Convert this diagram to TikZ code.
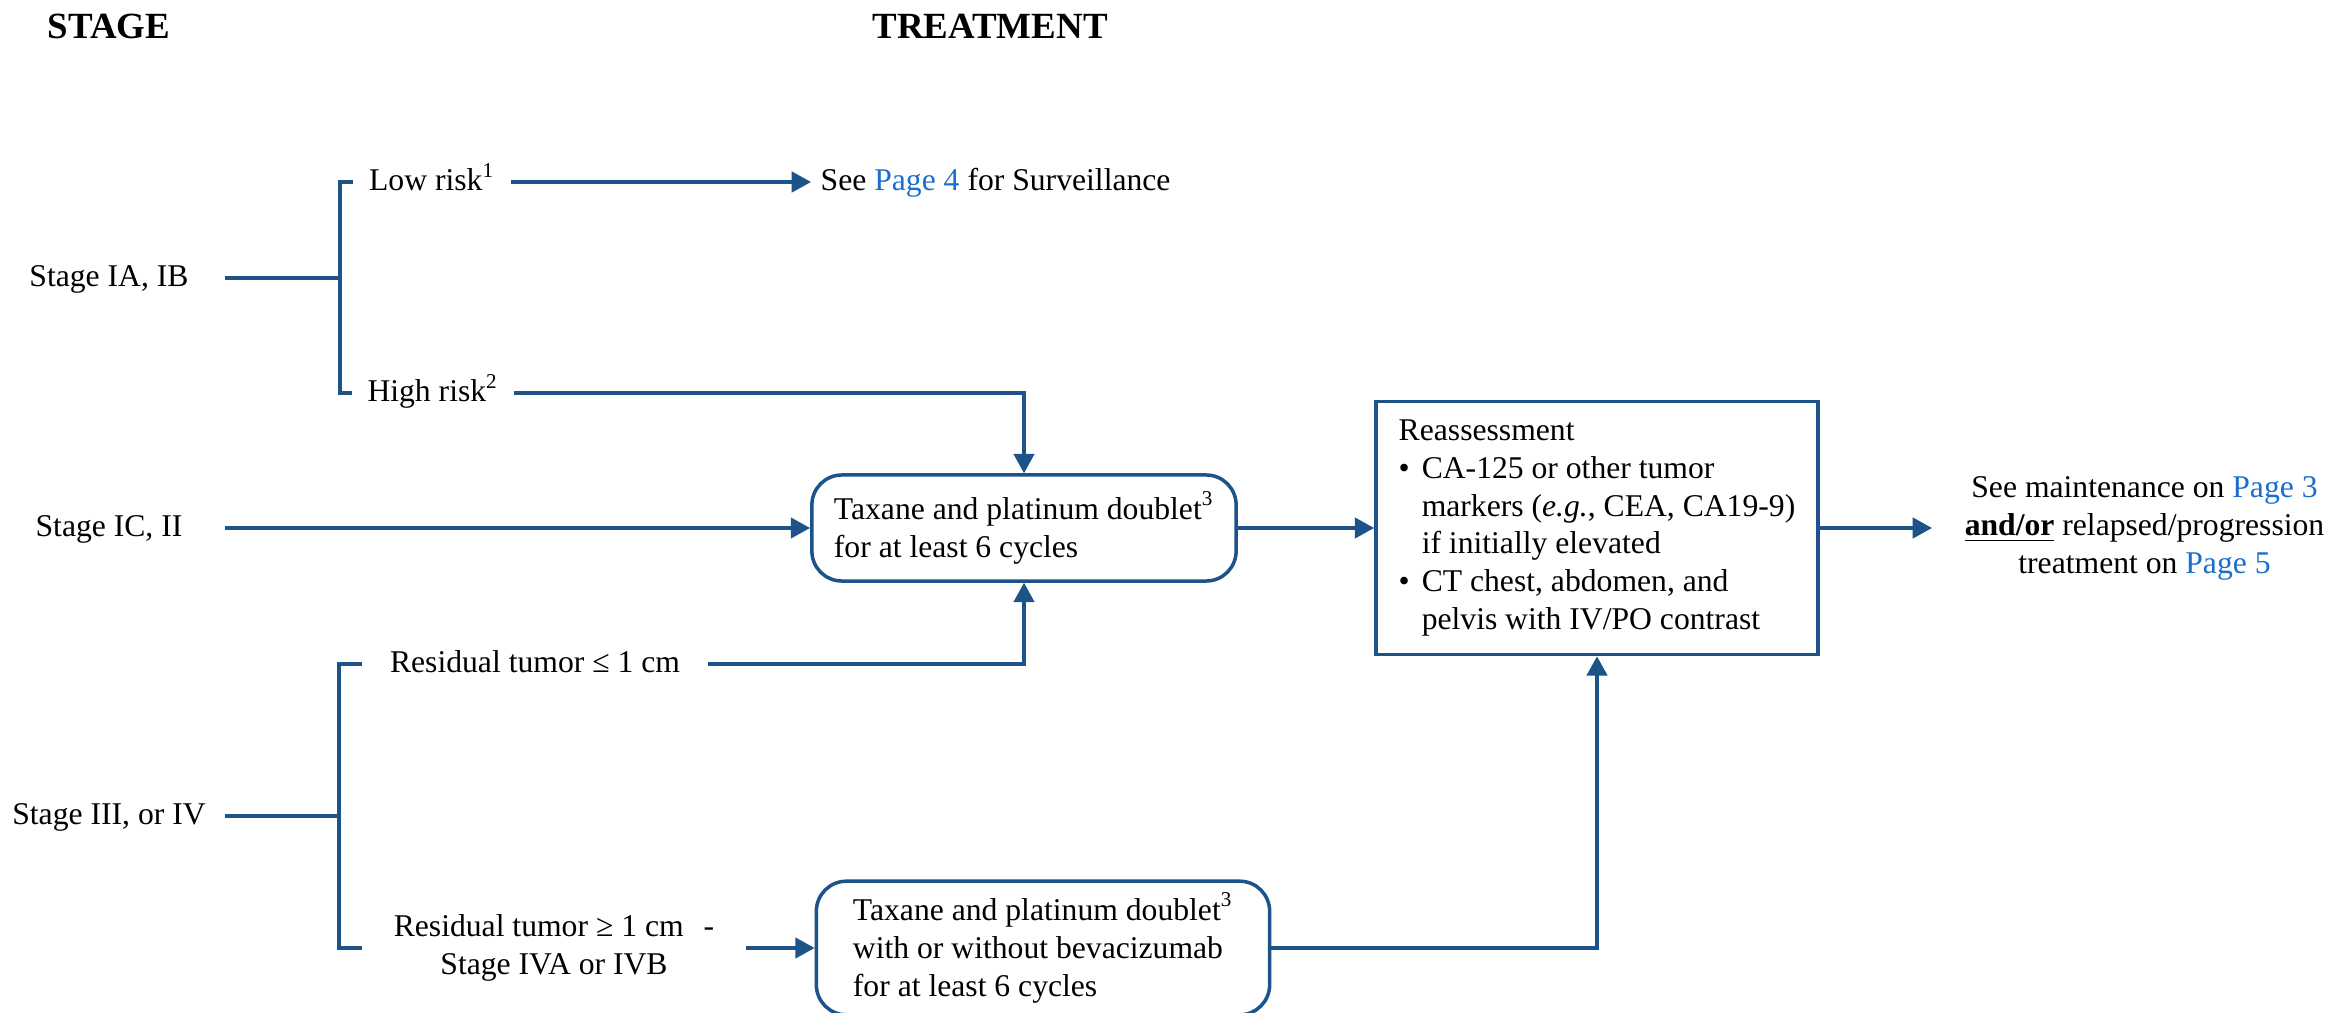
\documentclass[tikz,border=0pt]{standalone}
\usepackage{fontspec}
\setmainfont{Liberation Serif}
\usetikzlibrary{arrows.meta}
\definecolor{flowblue}{HTML}{1C5389}
\definecolor{pagelink}{HTML}{1A6FCC}
\newcommand{\pagelink}[1]{\textcolor{pagelink}{#1}}
\newcommand{\rbul}{\makebox[0.23cm][l]{\textbullet}}
\newcommand{\rind}{\hspace*{0.23cm}}

\begin{document}
\begin{tikzpicture}[x=0.01cm, y=-0.01cm]
    \tikzstyle{every node} = [font=\fontsize{9pt}{10.8pt}\selectfont]
    \tikzstyle{column header} = [font=\fontsize{10.5pt}{12pt}\selectfont\bfseries, inner sep=0pt]
    \tikzstyle{stage label} = [inner sep=0pt, minimum width=2.3cm, text height=7pt, text depth=2pt]
    \tikzstyle{branch text} = [inner ysep=0pt, inner xsep=0.15cm]
    \tikzstyle{branch label} = [branch text, text height=7pt, text depth=2pt]
    \tikzstyle{treatment box} = [draw=flowblue, line width=1pt, rounded corners=0.3cm, align=left, inner xsep=0.15cm, minimum width=4.24cm]
    \tikzstyle{reassess box} = [treatment box, rounded corners=0pt]
    \tikzstyle{flow line} = [draw=flowblue, line width=0.95pt]
    \tikzstyle{flow arrow} = [flow line, ->, >={Triangle[length=5.5pt,width=5.8pt]}]
    \useasboundingbox (0,0) rectangle (2331,1013);
\node[column header] (stagehd) at (109,26) {STAGE};
\node[column header] (treathd) at (990,26) {TREATMENT};
\node[stage label] (ia) at (109,278) {Stage IA, IB};
\node[stage label] (ic) at (109,528) {Stage IC, II};
\node[stage label] (iii) at (109,816) {Stage III, or IV};
\node[branch label] (low) at (432,182) {Low risk\textsuperscript{1}};
\node[branch label] (high) at (433,393) {High risk\textsuperscript{2}};
\node[branch label, anchor=west, inner xsep=0.09cm] (surv) at (811,182) {See \pagelink{Page 4} for Surveillance};
\node[branch label, inner xsep=0.27cm] (resid1) at (535,664) {Residual tumor ≤ 1 cm};
\node[branch text, align=center, inner xsep=0.31cm] (resid2) at (554,948) {Residual tumor ≥ 1 cm\hspace{0.2cm}-\\Stage IVA or IVB};
\node[treatment box, minimum height=1.06cm] (chemo) at (1024,528) {Taxane and platinum doublet\textsuperscript{3}\\for at least 6 cycles};
\node[treatment box, minimum width=4.53cm, minimum height=1.25cm] (bevachemo) at (1043,948) {Taxane and platinum doublet\textsuperscript{3}\\with or without bevacizumab\\for at least 6 cycles};
\node[reassess box, minimum width=4.42cm, minimum height=2.53cm] (reassess) at (1597,528) {Reassessment\\\rbul CA-125 or other tumor\\\rind markers (\textit{e.g.}, CEA, CA19-9)\\\rind if initially elevated\\\rbul CT chest, abdomen, and\\\rind pelvis with IV/PO contrast};
\node[branch text, anchor=west, align=center, inner xsep=0.32cm] (outcome) at (1932,528) {See maintenance on \pagelink{Page 3}\\\underline{\textbf{and/or}} relapsed/progression\\treatment on \pagelink{Page 5}};
\coordinate (forkA) at (340,278);
\coordinate (forkB) at (339,816);
\draw[flow line] (ia.east) -- (forkA);
\draw[flow line] (low.west) -| (forkA) |- (high.west);
\draw[flow line] (iii.east) -- (forkB);
\draw[flow line] (resid1.west) -| (forkB) |- (resid2.west);
\draw[flow arrow] (low.east) -- (surv.west);
\draw[flow arrow] (high.east) -| (chemo.north);
\draw[flow arrow] (ic.east) -- (chemo.west);
\draw[flow arrow] (resid1.east) -| (chemo.south);
\draw[flow arrow] (resid2.east) -- (bevachemo.west);
\draw[flow arrow] (chemo.east) -- (reassess.west);
\draw[flow arrow] (bevachemo.east) -| (reassess.south);
\draw[flow arrow] (reassess.east) -- (outcome.west);
\end{tikzpicture}
\end{document}
